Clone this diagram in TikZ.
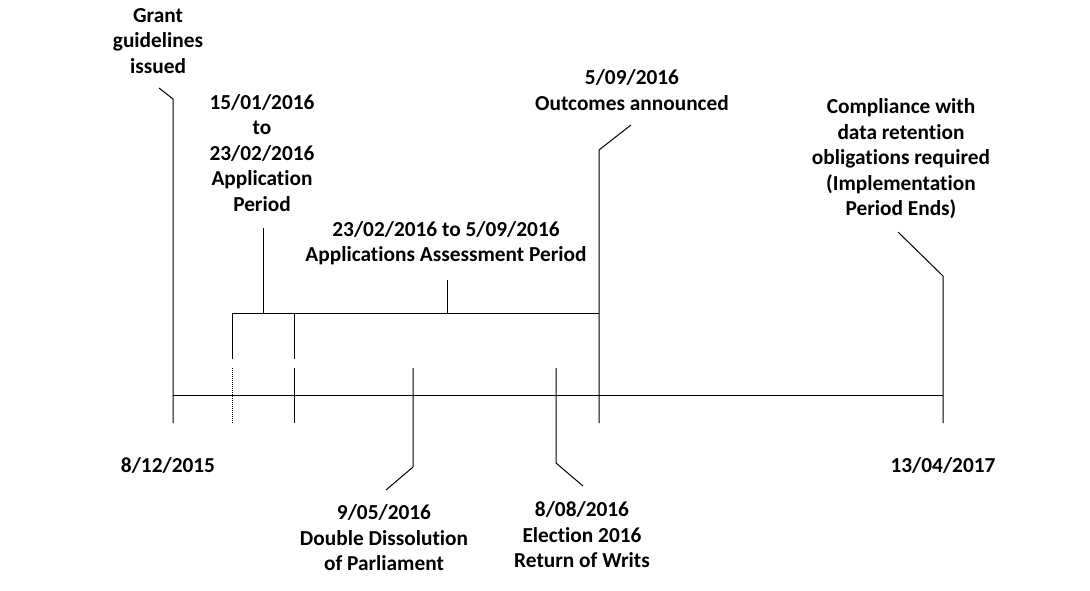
\documentclass[tikz,border=0pt]{standalone}
\usepackage{fontspec}
\setmainfont[Ligatures={NoCommon}]{Carlito}
\begin{document}
\begin{tikzpicture}[x=0.75pt,y=-0.75pt,
  lbl/.style={font=\fontsize{16}{19.1}\selectfont\bfseries, align=center, inner sep=0pt},
  ln/.style={line width=0.75pt, black},
  dotln/.style={line width=0.75pt, black, dash pattern=on 0.75pt off 0.75pt}]
\useasboundingbox (0,0) rectangle (1090,590);
% labels
\node[lbl] (grant) at (158,41) {Grant\\guidelines\\issued};
\node[lbl] (app) at (262,153) {15/01/2016\\to\\23/02/2016\\Application\\Period};
\node[lbl] (assess) at (446,243) {23/02/2016 to 5/09/2016\\Applications Assessment Period};
\node[lbl] (outc) at (632,90) {5/09/2016\\Outcomes announced};
\node[lbl] (comp) at (901,159) {Compliance with\\data retention\\obligations required\\(Implementation\\Period Ends)};
\node[lbl] (dstart) at (168,465) {8/12/2015};
\node[lbl] (dend) at (943,465) {13/04/2017};
\node[lbl] (dd) at (384,538) {9/05/2016\\Double Dissolution\\of Parliament};
\node[lbl] (el) at (582,535) {8/08/2016\\Election 2016\\Return of Writs};
% coordinates
\coordinate (axL) at (173,395);
\coordinate (axR) at (943,395);
\coordinate (g1) at (159,88);
\coordinate (g2) at (173,99);
\coordinate (g3) at (173,423);
\coordinate (a1top) at (232,313);
\coordinate (a1mid) at (232,359);
\coordinate (a1low) at (232,368);
\coordinate (a1bot) at (232,423);
\coordinate (a2top) at (294,313);
\coordinate (a2mid) at (294,359);
\coordinate (a2low) at (294,368);
\coordinate (a2bot) at (294,423);
\coordinate (brR) at (599,313);
\coordinate (apT) at (263,228);
\coordinate (apB) at (263,313);
\coordinate (asT) at (447,280);
\coordinate (asB) at (447,313);
\coordinate (o1) at (631,125);
\coordinate (o2) at (599,150);
\coordinate (o3) at (599,423);
\coordinate (p1) at (413,368);
\coordinate (p2) at (413,467);
\coordinate (p3) at (386,490);
\coordinate (e1) at (556,368);
\coordinate (e2) at (556,463);
\coordinate (e3) at (583,486);
\coordinate (c1) at (898,232);
\coordinate (c2) at (943,276);
\coordinate (c3) at (943,423);
% lines
\draw[ln] (axL) -- (axR);
\draw[ln] (g1) -- (g2) -- (g3);
\draw[ln] (a1mid) -- (a1top) -- (brR);
\draw[dotln] (a1low) -- (a1bot);
\draw[ln] (a2top) -- (a2mid);
\draw[ln] (a2low) -- (a2bot);
\draw[ln] (apT) -- (apB);
\draw[ln] (asT) -- (asB);
\draw[ln] (o1) -- (o2) -- (o3);
\draw[ln] (p1) -- (p2) -- (p3);
\draw[ln] (e1) -- (e2) -- (e3);
\draw[ln] (c1) -- (c2) -- (c3);
\end{tikzpicture}
\end{document}
